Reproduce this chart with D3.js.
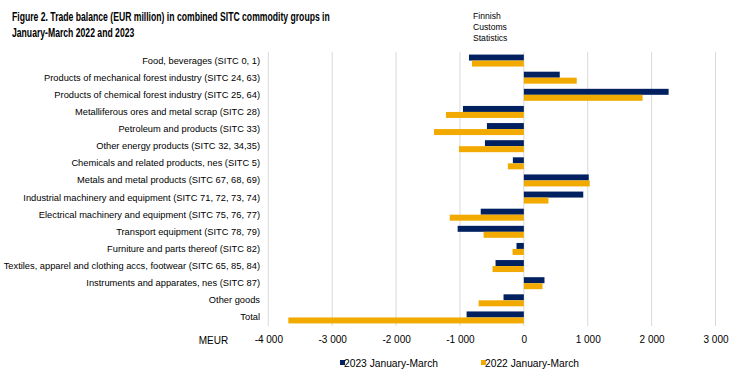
<!DOCTYPE html>
<html><head><meta charset="utf-8">
<script src="https://cdn.jsdelivr.net/npm/d3@7"></script>
<style>body{margin:0;background:#fff}svg{display:block}text{font-family:"Liberation Sans",Arial,sans-serif}</style>
</head><body>
<svg id="c" width="737" height="378"></svg>
<script>
const categories = [
  "Food, beverages (SITC 0, 1)",
  "Products of mechanical forest industry (SITC 24, 63)",
  "Products of chemical forest industry (SITC 25, 64)",
  "Metalliferous ores and metal scrap (SITC 28)",
  "Petroleum and products (SITC 33)",
  "Other energy products (SITC 32, 34,35)",
  "Chemicals and related products, nes (SITC 5)",
  "Metals and metal products (SITC 67, 68, 69)",
  "Industrial machinery and equipment (SITC 71, 72, 73, 74)",
  "Electrical machinery and equipment (SITC 75, 76, 77)",
  "Transport equipment (SITC 78, 79)",
  "Furniture and parts thereof (SITC 82)",
  "Textiles, apparel and clothing accs, footwear (SITC 65, 85, 84)",
  "Instruments and apparates, nes (SITC 87)",
  "Other goods",
  "Total"
];
const values2023 = [-859, 562, 2266, -953, -578, -609, -172, 1016, 930, -675, -1036, -115, -443, 323, -318, -896];
const values2022 = [-812, 828, 1859, -1219, -1406, -1016, -250, 1031, 385, -1160, -630, -177, -490, 292, -708, -3687];
const seriesNames = ["2023 January-March", "2022 January-March"];
const tickValues = [-4000, -3000, -2000, -1000, 0, 1000, 2000, 3000];
const titleLines = ["Figure 2. Trade balance (EUR million) in combined SITC commodity groups in", "January-March 2022 and 2023"];
const sourceLines = ["Finnish", "Customs", "Statistics"];
const colors = ["#002060", "#F2AA00"];

const svg = d3.select("#c");
const x = d3.scaleLinear().domain([-4000, 3000]).range([268.3, 715.5]);
const y = d3.scaleBand().domain(categories).range([52, 326]).paddingInner(0.3).paddingOuter(0.15);
const ySub = d3.scaleBand().domain(seriesNames).range([0, y.bandwidth()]);

// gridlines
svg.append("g").selectAll("line").data(tickValues.filter(d => d !== -4000)).join("line")
  .attr("x1", d => x(d)).attr("x2", d => x(d)).attr("y1", 52).attr("y2", 326)
  .attr("stroke", "#d9d9d9").attr("stroke-width", 1);
svg.append("line").attr("x1", x(-4000)).attr("x2", x(-4000)).attr("y1", 52).attr("y2", 326)
  .attr("stroke", "#d9d9d9").attr("stroke-width", 1);

const data = categories.map((c, i) => ({c, v: [values2023[i], values2022[i]]}));
const g = svg.append("g");
seriesNames.forEach((s, si) => {
  g.append("g").selectAll("rect").data(data).join("rect")
    .attr("x", d => x(Math.min(0, d.v[si])))
    .attr("width", d => Math.abs(x(d.v[si]) - x(0)))
    .attr("y", d => y(d.c) + ySub(s))
    .attr("height", ySub.bandwidth())
    .attr("fill", colors[si]);
});

// category labels
const yAxis = svg.append("g").attr("transform", "translate(260,0)")
  .call(d3.axisLeft(y).tickSize(0).tickPadding(0));
yAxis.select(".domain").remove();
yAxis.selectAll("text").attr("font-size", 9.3).attr("fill", "#000")
  .attr("font-family", "'Liberation Sans',Arial,sans-serif");

// x axis labels
const xAxis = svg.append("g").attr("transform", "translate(0,326)")
  .call(d3.axisBottom(x).tickValues(tickValues).tickSize(0).tickPadding(10)
    .tickFormat(d => d3.format(",")(d).replace(/,/g, " ").replace("\u2212", "-")));
xAxis.select(".domain").remove();
xAxis.selectAll("text").attr("font-size", 10).attr("fill", "#000")
  .attr("font-family", "'Liberation Sans',Arial,sans-serif");

svg.append("text").attr("x", 213.5).attr("y", 344).attr("text-anchor", "middle")
  .attr("font-size", 10).text("MEUR");

// title (condensed horizontally like the original narrow font)
const titleG = svg.append("g").attr("transform", "translate(12,0) scale(0.665,1)");
titleLines.forEach((t, i) => {
  titleG.append("text").attr("font-size", 13).attr("font-weight", "bold")
    .attr("x", 0).attr("y", 21 + i * 16).text(t);
});

sourceLines.forEach((t, i) =>
  svg.append("text").attr("font-size", 8.6).attr("x", 473).attr("y", 18.5 + i * 11).text(t));

// legend
const legX = [340, 481];
seriesNames.forEach((s, i) => {
  svg.append("rect").attr("x", legX[i]).attr("y", 360).attr("width", 5).attr("height", 5).attr("fill", colors[i]);
  svg.append("text").attr("x", legX[i] + 4).attr("y", 366.5).attr("font-size", 10)
    .attr("textLength", 94).attr("lengthAdjust", "spacingAndGlyphs").text(s);
});
</script>
</body></html>
